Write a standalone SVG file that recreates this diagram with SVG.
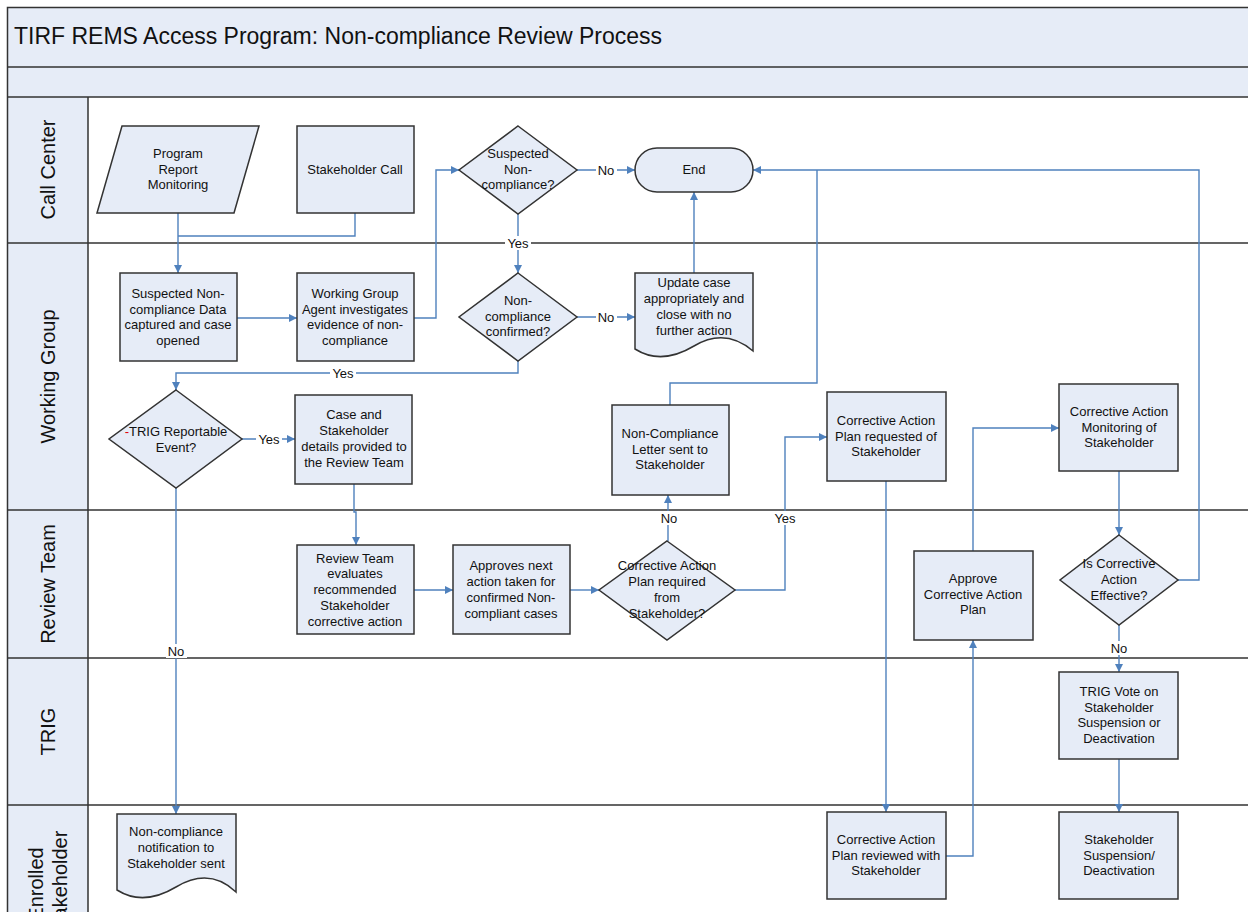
<svg xmlns="http://www.w3.org/2000/svg" width="1248" height="912" viewBox="0 0 1248 912">
<defs>
<style>
.band{fill:#E6ECF7;stroke:none}
.frame{fill:none;stroke:#333;stroke-width:1.5}
.node{fill:#E6ECF7;stroke:#333;stroke-width:1.5}
.t{font-family:"Liberation Sans",Arial,sans-serif;font-size:13px;fill:#111;text-anchor:middle}
.lane{font-family:"Liberation Sans",Arial,sans-serif;font-size:20px;fill:#111;text-anchor:middle}
.title{font-family:"Liberation Sans",Arial,sans-serif;font-size:23px;fill:#111}
.c{fill:none;stroke:#4F81BD;stroke-width:1.4}
.lb{fill:#fff}
</style>
<marker id="ah" markerWidth="8" markerHeight="8" refX="8" refY="4" orient="auto" markerUnits="userSpaceOnUse">
<path d="M0,0 L8,4 L0,8 Z" fill="#4F81BD"/>
</marker>
</defs>
<rect x="0" y="0" width="1248" height="912" fill="#fff"/>
<g id="pool">
<rect class="band" x="7" y="7" width="1241" height="90"/>
<rect class="band" x="7" y="97" width="81" height="815"/>
<path class="frame" d="M1248,7.5 H7.5 V912 M7,67 H1248 M7,97 H1248 M88,97 V912 M7,243 H1248 M7,510 H1248 M7,658 H1248 M7,805 H1248"/>
<text class="title" x="14" y="44">TIRF REMS Access Program: Non-compliance Review Process</text>
<text class="lane" transform="translate(55,169.5) rotate(-90)">Call Center</text>
<text class="lane" transform="translate(55,376.5) rotate(-90)">Working Group</text>
<text class="lane" transform="translate(55,584) rotate(-90)">Review Team</text>
<text class="lane" transform="translate(55,731.5) rotate(-90)">TRIG</text>
<text class="lane" transform="translate(43,884) rotate(-90)">Enrolled</text>
<text class="lane" transform="translate(67,884) rotate(-90)">Stakeholder</text>
</g>
<g id="connectors">
<path class="c" marker-end="url(#ah)" d="M178,213 V273"/>
<path class="c" d="M355,213 V236 H178"/>
<path class="c" marker-end="url(#ah)" d="M237,318 H297"/>
<path class="c" marker-end="url(#ah)" d="M414,318 H436 V170 H459"/>
<path class="c" marker-end="url(#ah)" d="M577,170 H635"/>
<path class="c" marker-end="url(#ah)" d="M518,214 V273"/>
<path class="c" marker-end="url(#ah)" d="M577,317 H635"/>
<path class="c" marker-end="url(#ah)" d="M694,273 V192"/>
<path class="c" marker-end="url(#ah)" d="M518,361 V373 H176 V390"/>
<path class="c" marker-end="url(#ah)" d="M242,439 H295"/>
<path class="c" marker-end="url(#ah)" d="M176,488 V814"/>
<path class="c" marker-end="url(#ah)" d="M354,484 V512 H356 V545"/>
<path class="c" marker-end="url(#ah)" d="M414,590 H453"/>
<path class="c" marker-end="url(#ah)" d="M570,590 H599"/>
<path class="c" marker-end="url(#ah)" d="M668,541 V495"/>
<path class="c" marker-end="url(#ah)" d="M735,590 H785 V437 H827"/>
<path class="c" d="M670,405 V383 H817 V170"/>
<path class="c" marker-end="url(#ah)" d="M1178,580 H1199 V170 H753"/>
<path class="c" marker-end="url(#ah)" d="M886,481 V812"/>
<path class="c" marker-end="url(#ah)" d="M946,856 H973 V640"/>
<path class="c" marker-end="url(#ah)" d="M973,551 V428 H1059"/>
<path class="c" marker-end="url(#ah)" d="M1119,471 V535"/>
<path class="c" marker-end="url(#ah)" d="M1119,625 V672"/>
<path class="c" marker-end="url(#ah)" d="M1119,759 V812"/>
<rect class="lb" x="596" y="163" width="21" height="14"/><text class="t" x="606" y="175">No</text>
<rect class="lb" x="505" y="236" width="26" height="14"/><text class="t" x="518" y="248">Yes</text>
<rect class="lb" x="596" y="310" width="21" height="14"/><text class="t" x="606" y="322">No</text>
<rect class="lb" x="330" y="366" width="26" height="14"/><text class="t" x="343" y="378">Yes</text>
<rect class="lb" x="256" y="432" width="26" height="14"/><text class="t" x="269" y="444">Yes</text>
<rect class="lb" x="166" y="644" width="21" height="14"/><text class="t" x="176" y="656">No</text>
<rect class="lb" x="658" y="511" width="21" height="14"/><text class="t" x="669" y="523">No</text>
<rect class="lb" x="772" y="511" width="26" height="14"/><text class="t" x="785" y="523">Yes</text>
<rect class="lb" x="1108" y="641" width="21" height="14"/><text class="t" x="1119" y="653">No</text>
</g>
<g id="program-report">
<polygon class="node" points="122,126 259,126 234,213 97,213"/>
<text class="t" x="178" y="158">Program</text><text class="t" x="178" y="174">Report</text><text class="t" x="178" y="189">Monitoring</text>
</g>
<g id="stakeholder-call">
<rect class="node" x="297" y="126" width="117" height="87"/>
<text class="t" x="355" y="174">Stakeholder Call</text>
</g>
<g id="suspected-dec">
<polygon class="node" points="518,126 577,170 518,214 459,170"/>
<text class="t" x="518" y="158">Suspected</text><text class="t" x="518" y="174">Non-</text><text class="t" x="518" y="189">compliance?</text>
</g>
<g id="end">
<rect class="node" x="635" y="148" width="118" height="44" rx="22" ry="22"/>
<text class="t" x="694" y="174">End</text>
</g>
<g id="data-captured">
<rect class="node" x="120" y="273" width="117" height="88"/>
<text class="t" x="178" y="298">Suspected Non-</text><text class="t" x="178" y="314">compliance Data</text><text class="t" x="178" y="329">captured and case</text><text class="t" x="178" y="345">opened</text>
</g>
<g id="wg-agent">
<rect class="node" x="297" y="273" width="117" height="88"/>
<text class="t" x="355" y="298">Working Group</text><text class="t" x="355" y="314">Agent investigates</text><text class="t" x="355" y="329">evidence of non-</text><text class="t" x="355" y="345">compliance</text>
</g>
<g id="confirmed-dec">
<polygon class="node" points="518,273 577,317 518,361 459,317"/>
<text class="t" x="518" y="305">Non-</text><text class="t" x="518" y="321">compliance</text><text class="t" x="518" y="336">confirmed?</text>
</g>
<g id="update-case">
<path class="node" d="M635,273 H753 V351 C733,334 714,334 694,346 C674,358 654,361 635,349 Z"/>
<text class="t" x="694" y="287">Update case</text><text class="t" x="694" y="303">appropriately and</text><text class="t" x="694" y="319">close with no</text><text class="t" x="694" y="335">further action</text>
</g>
<g id="trig-dec">
<polygon class="node" points="176,390 242,439 176,488 109,439"/>
<text class="t" x="176" y="436"><tspan fill="#E00000">-</tspan>TRIG Reportable</text><text class="t" x="176" y="452">Event?</text>
</g>
<g id="case-details">
<rect class="node" x="295" y="395" width="117" height="89"/>
<text class="t" x="354" y="419">Case and</text><text class="t" x="354" y="435">Stakeholder</text><text class="t" x="354" y="451">details provided to</text><text class="t" x="354" y="467">the Review Team</text>
</g>
<g id="nc-letter">
<rect class="node" x="612" y="405" width="117" height="90"/>
<text class="t" x="670" y="438">Non-Compliance</text><text class="t" x="670" y="454">Letter sent to</text><text class="t" x="670" y="469">Stakeholder</text>
</g>
<g id="cap-requested">
<rect class="node" x="827" y="392" width="119" height="89"/>
<text class="t" x="886" y="425">Corrective Action</text><text class="t" x="886" y="441">Plan requested of</text><text class="t" x="886" y="456">Stakeholder</text>
</g>
<g id="cap-monitoring">
<rect class="node" x="1059" y="384" width="119" height="87"/>
<text class="t" x="1119" y="416">Corrective Action</text><text class="t" x="1119" y="432">Monitoring of</text><text class="t" x="1119" y="447">Stakeholder</text>
</g>
<g id="review-evaluates">
<rect class="node" x="297" y="545" width="117" height="89"/>
<text class="t" x="355" y="563">Review Team</text><text class="t" x="355" y="578">evaluates</text><text class="t" x="355" y="594">recommended</text><text class="t" x="355" y="610">Stakeholder</text><text class="t" x="355" y="626">corrective action</text>
</g>
<g id="approves-next">
<rect class="node" x="453" y="545" width="117" height="89"/>
<text class="t" x="511" y="570">Approves next</text><text class="t" x="511" y="586">action taken for</text><text class="t" x="511" y="602">confirmed Non-</text><text class="t" x="511" y="618">compliant cases</text>
</g>
<g id="cap-required-dec">
<polygon class="node" points="667,541 735,590 667,640 599,590"/>
<text class="t" x="667" y="570">Corrective Action</text><text class="t" x="667" y="586">Plan required</text><text class="t" x="667" y="602">from</text><text class="t" x="667" y="618">Stakeholder?</text>
</g>
<g id="approve-cap">
<rect class="node" x="914" y="551" width="119" height="89"/>
<text class="t" x="973" y="583">Approve</text><text class="t" x="973" y="599">Corrective Action</text><text class="t" x="973" y="614">Plan</text>
</g>
<g id="effective-dec">
<polygon class="node" points="1119,535 1178,580 1119,625 1060,580"/>
<text class="t" x="1119" y="568">Is Corrective</text><text class="t" x="1119" y="584">Action</text><text class="t" x="1119" y="600">Effective?</text>
</g>
<g id="trig-vote">
<rect class="node" x="1059" y="672" width="119" height="87"/>
<text class="t" x="1119" y="696">TRIG Vote on</text><text class="t" x="1119" y="712">Stakeholder</text><text class="t" x="1119" y="727">Suspension or</text><text class="t" x="1119" y="743">Deactivation</text>
</g>
<g id="nc-notification">
<path class="node" d="M117,814 H236 V892 C216,873 196,875 176,887 C156,899 136,902 117,890 Z"/>
<text class="t" x="176" y="836">Non-compliance</text><text class="t" x="176" y="852">notification to</text><text class="t" x="176" y="868">Stakeholder sent</text>
</g>
<g id="cap-reviewed">
<rect class="node" x="827" y="812" width="119" height="87"/>
<text class="t" x="886" y="844">Corrective Action</text><text class="t" x="886" y="860">Plan reviewed with</text><text class="t" x="886" y="875">Stakeholder</text>
</g>
<g id="suspension">
<rect class="node" x="1059" y="812" width="119" height="87"/>
<text class="t" x="1119" y="844">Stakeholder</text><text class="t" x="1119" y="860">Suspension/</text><text class="t" x="1119" y="875">Deactivation</text>
</g>
</svg>
